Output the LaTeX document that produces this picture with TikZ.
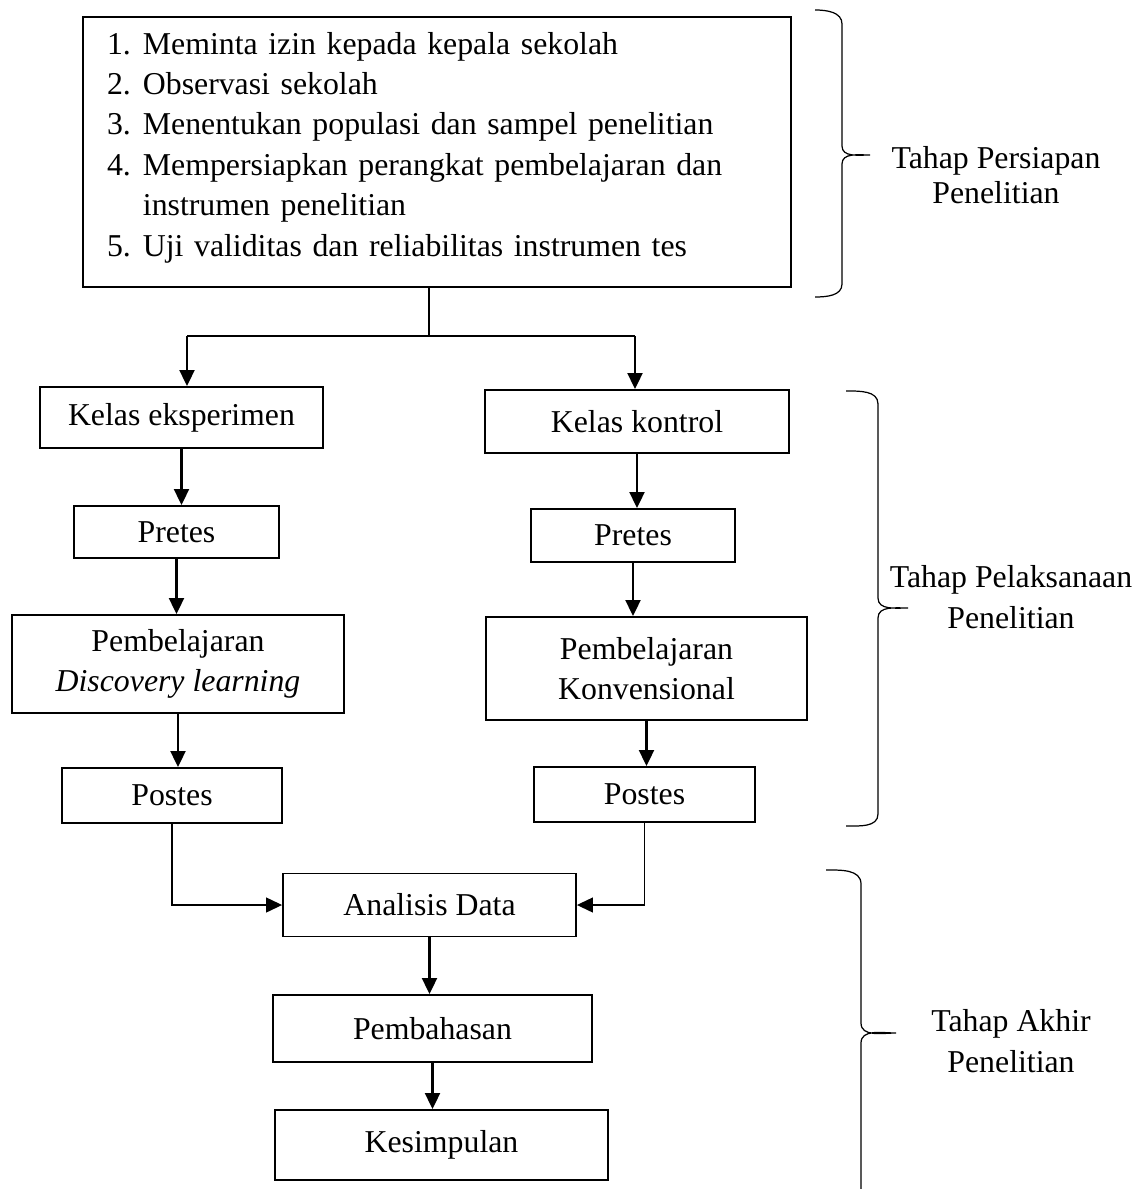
\documentclass[tikz,border=0pt]{standalone}
\usepackage{fontspec}
\setmainfont{Liberation Serif}
\usepackage{tikz}
\usetikzlibrary{arrows.meta}

\begin{document}
\begin{tikzpicture}[x=0.02cm, y=-0.02cm,
  kotak/.style={draw, line width=1.1pt, inner sep=0pt, align=center,
    font=\fontsize{18.1pt}{23pt}\selectfont},
  panah/.style={line width=1.2pt, -{Triangle[length=0.32cm,width=0.3cm]}},
  panahtipis/.style={line width=0.7pt, -{Triangle[length=0.32cm,width=0.3cm]}},
  garis/.style={line width=0.7pt},
  kurung/.style={line width=0.7pt},
  tahap/.style={align=center, font=\fontsize{18.1pt}{23pt}\selectfont}]
\useasboundingbox (0,0) rectangle (1145,1189);

% tahap persiapan
\node[kotak, line width=1.3pt, text width=13.2cm, inner xsep=0.48cm, align=left,
  minimum height=5.4cm] (persiapan) at (437,152) {%
  \begin{tabular}{@{}l@{\hspace{0.24cm}}l@{}}
  1. & Meminta izin kepada kepala sekolah\\
  2. & Observasi sekolah\\
  3. & Menentukan populasi dan sampel penelitian\\
  4. & Mempersiapkan perangkat pembelajaran dan\\
     & instrumen penelitian\\
  5. & Uji validitas dan reliabilitas instrumen tes\\[0.2cm]
  \end{tabular}};

\coordinate (cabang) at (429,336);
\coordinate (kiri) at (187,336);
\coordinate (kanan) at (635,336);
\draw[garis] (persiapan.south -| cabang) -- (cabang);
\draw[garis] (kiri) -- (kanan);

% kelas eksperimen
\node[kotak, minimum width=5.66cm, minimum height=1.22cm] (eksp) at (181.5,417.5) {Kelas eksperimen};
\node[kotak, minimum width=4.1cm, minimum height=1.04cm] (pretesA) at (176.5,532) {Pretes};
\node[kotak, minimum width=6.64cm, minimum height=1.96cm] (discovery) at (178,664) {Pembelajaran\\\textit{Discovery learning}};
\node[kotak, minimum width=4.4cm, minimum height=1.1cm] (postesA) at (172,795.5) {Postes};

% kelas kontrol
\node[kotak, minimum width=6.08cm, minimum height=1.26cm] (kontrol) at (637,421.5) {Kelas kontrol};
\node[kotak, minimum width=4.08cm, minimum height=1.06cm] (pretesB) at (633,535.5) {Pretes};
\node[kotak, minimum width=6.42cm, minimum height=2.06cm] (konvensional) at (646.5,668.5) {Pembelajaran\\Konvensional};
\node[kotak, minimum width=4.42cm, minimum height=1.1cm] (postesB) at (644.5,794.5) {Postes};

% tahap akhir
\node[kotak, minimum width=5.86cm, minimum height=1.26cm] (analisis) at (429.5,905) {Analisis Data};
\node[kotak, minimum width=6.38cm, minimum height=1.34cm] (pembahasan) at (432.5,1028.5) {Pembahasan};
\node[kotak, minimum width=6.66cm, minimum height=1.4cm] (kesimpulan) at (441.5,1145) {Kesimpulan};

\draw[panah] (kiri) -- (kiri |- eksp.north);
\draw[panah] (kanan) -- (kanan |- kontrol.north);
\draw[panah] (eksp) -- (eksp |- pretesA.north);
\draw[panah] (pretesA) -- (pretesA |- discovery.north);
\draw[panah] (discovery) -- (discovery |- postesA.north);
\draw[panah] (kontrol) -- (kontrol |- pretesB.north);
\draw[panah] (pretesB) -- (pretesB |- konvensional.north);
\draw[panah] (konvensional) -- (konvensional |- postesB.north);
\draw[panahtipis] (postesA) |- (analisis);
\draw[panahtipis] (postesB) |- (analisis);
\draw[panah] (analisis) -- (analisis |- pembahasan.north);
\draw[panah] (pembahasan) -- (pembahasan |- kesimpulan.north);

% kurung kurawal
\draw[kurung] (815,10) to [out=0,in=90] (842,24) -- (842,146) to [out=-90,in=180] (870,155)
  to [out=180,in=90] (842,164) -- (842,284) to [out=-90,in=0] (815,297);
\draw[kurung] (846,391) to [out=0,in=90] (878,404) -- (878,598) to [out=-90,in=180] (908,608)
  to [out=180,in=90] (878,618) -- (878,814) to [out=-90,in=0] (846,826);
\draw[kurung] (826,870) to [out=0,in=90] (861,884) -- (861,1023) to [out=-90,in=180] (896,1033)
  to [out=180,in=90] (861,1043) -- (861,1200);

\node[tahap] (persiapanlabel) at (996,175) {Tahap Persiapan\\[-3pt]Penelitian};
\node[tahap] (pelaksanaanlabel) at (1011,597) {Tahap Pelaksanaan\\Penelitian};
\node[tahap] (akhirlabel) at (1011,1041) {Tahap Akhir\\Penelitian};
\end{tikzpicture}
\end{document}
